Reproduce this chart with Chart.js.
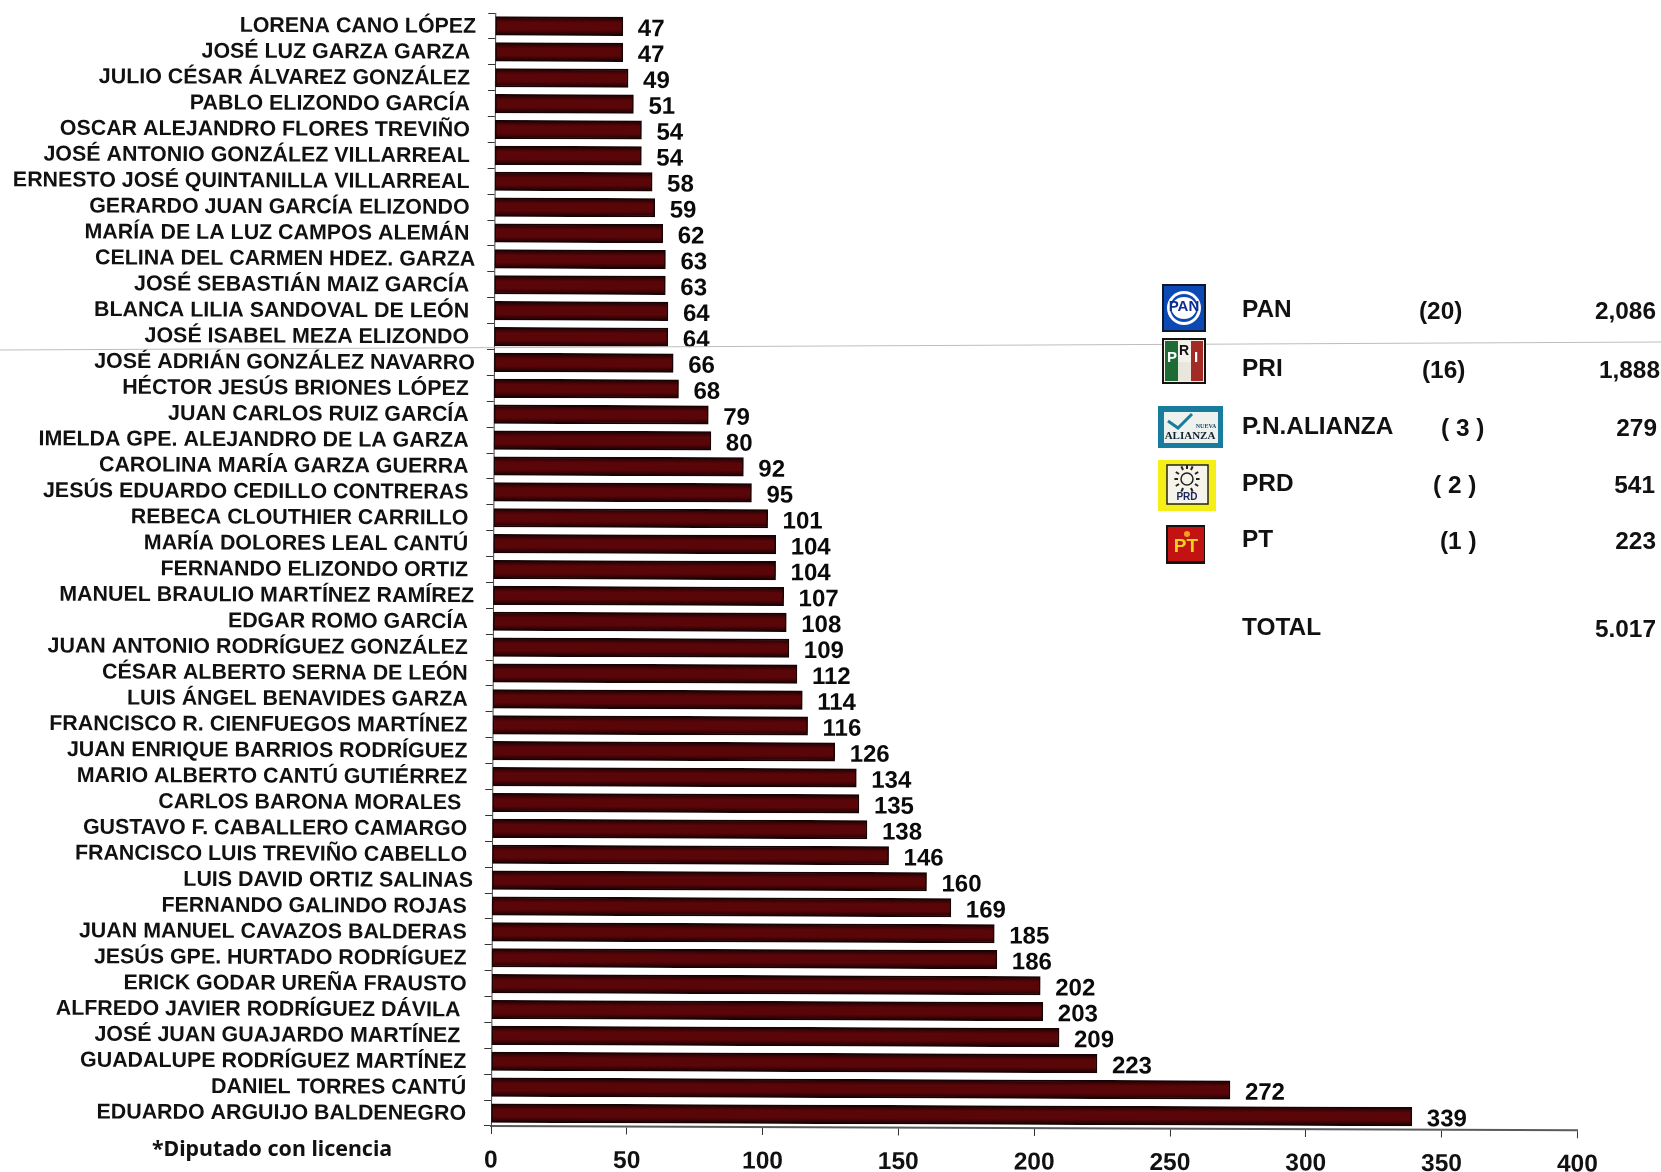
<!DOCTYPE html>
<html><head><meta charset="utf-8">
<style>html,body{margin:0;padding:0;background:#fff}#w{width:1661px;height:1172px;position:relative}</style>
<script src="https://cdn.jsdelivr.net/npm/chart.js@4/dist/chart.umd.min.js"></script>
</head><body><div id="w"><canvas id="c" width="1661" height="1172"></canvas></div>
<script>
const names = ["LORENA CANO LÓPEZ","JOSÉ LUZ GARZA GARZA ","JULIO CÉSAR ÁLVAREZ GONZÁLEZ ","PABLO ELIZONDO GARCÍA ","OSCAR ALEJANDRO FLORES TREVIÑO ","JOSÉ ANTONIO GONZÁLEZ VILLARREAL ","ERNESTO JOSÉ QUINTANILLA VILLARREAL ","GERARDO JUAN GARCÍA ELIZONDO ","MARÍA DE LA LUZ CAMPOS ALEMÁN ","CELINA DEL CARMEN HDEZ. GARZA","JOSÉ SEBASTIÁN MAIZ GARCÍA ","BLANCA LILIA SANDOVAL DE LEÓN ","JOSÉ ISABEL MEZA ELIZONDO ","JOSÉ ADRIÁN GONZÁLEZ NAVARRO","HÉCTOR JESÚS BRIONES LÓPEZ ","JUAN CARLOS RUIZ GARCÍA ","IMELDA GPE. ALEJANDRO DE LA GARZA ","CAROLINA MARÍA GARZA GUERRA ","JESÚS EDUARDO CEDILLO CONTRERAS ","REBECA CLOUTHIER CARRILLO ","MARÍA DOLORES LEAL CANTÚ ","FERNANDO ELIZONDO ORTIZ ","MANUEL BRAULIO MARTÍNEZ RAMÍREZ","EDGAR ROMO GARCÍA ","JUAN ANTONIO RODRÍGUEZ GONZÁLEZ ","CÉSAR ALBERTO SERNA DE LEÓN ","LUIS ÁNGEL BENAVIDES GARZA ","FRANCISCO R. CIENFUEGOS MARTÍNEZ ","JUAN ENRIQUE BARRIOS RODRÍGUEZ ","MARIO ALBERTO CANTÚ GUTIÉRREZ ","CARLOS BARONA MORALES  ","GUSTAVO F. CABALLERO CAMARGO ","FRANCISCO LUIS TREVIÑO CABELLO ","LUIS DAVID ORTIZ SALINAS","FERNANDO GALINDO ROJAS ","JUAN MANUEL CAVAZOS BALDERAS ","JESÚS GPE. HURTADO RODRÍGUEZ ","ERICK GODAR UREÑA FRAUSTO ","ALFREDO JAVIER RODRÍGUEZ DÁVILA  ","JOSÉ JUAN GUAJARDO MARTÍNEZ  ","GUADALUPE RODRÍGUEZ MARTÍNEZ ","DANIEL TORRES CANTÚ ","EDUARDO ARGUIJO BALDENEGRO "];
const values = [47,47,49,51,54,54,58,59,62,63,63,64,64,66,68,79,80,92,95,101,104,104,107,108,109,112,114,116,126,134,135,138,146,160,169,185,186,202,203,209,223,272,339];
const parties = ["PAN","PRI","P.N.ALIANZA","PRD","PT"];
const seats = ["(20)","(16)","( 3 )","( 2 )","(1 )"];
const partyTotals = ["2,086","1,888","279","541","223"];
const totalLabel = "TOTAL";
const totalValue = "5.017";
const footnote = "*Diputado con licencia";
const xTicks = [0,50,100,150,200,250,300,350,400];

const AR = '"Liberation Sans"';
const TILT = 0.0038;           // the scanned page is very slightly rotated
function logos(ctx){
  const t=(s,x,y,f,c)=>{ctx.font=f;ctx.fillStyle=c;ctx.textAlign='center';ctx.textBaseline='middle';ctx.fillText(s,x,y);};
  const r=(x,y,w,h,c)=>{ctx.fillStyle=c;ctx.fillRect(x,y,w,h);};
  // PAN
  r(1162,284,44,48,'#10182c'); r(1164,286,40,44,'#0d49b4');
  ctx.fillStyle='#fff';ctx.beginPath();ctx.arc(1184,308,17,0,7);ctx.fill();
  ctx.fillStyle='#0d49b4';ctx.beginPath();ctx.arc(1184,308,14,0,7);ctx.fill();
  ctx.fillStyle='#fff';ctx.beginPath();ctx.ellipse(1184,308,12.5,11,0,0,7);ctx.fill();
  t('PAN',1184,307,'bold 15px '+AR,'#0d2f90');
  // PRI
  r(1162,338,44,46,'#15120f'); r(1164,340,40,42,'#f4f1ea');
  r(1165,341,13,40,'#1e6b36'); r(1191,341,12,40,'#a32a25');
  r(1178,362,13,19,'#e9e6dd');
  t('P',1172,358,'bold 15px '+AR,'#fff'); t('R',1184,351,'bold 14px '+AR,'#111'); t('I',1196,358,'bold 15px '+AR,'#fff');
  // Nueva Alianza
  r(1158,406,65,42,'#1a7c9c'); r(1164,412,54,31,'#eef2ee');
  ctx.strokeStyle='#1a7c9c';ctx.lineWidth=3;ctx.beginPath();ctx.moveTo(1168,421);ctx.lineTo(1178,428);ctx.lineTo(1192,414);ctx.stroke();
  t('NUEVA',1206,426,'bold 6px "Liberation Serif"','#1a4a60');
  t('ALIANZA',1190,436,'bold 11px "Liberation Serif"','#123');
  // PRD
  r(1158,460,58,51,'#f5ef17'); r(1167,465,41,39,'#f6f4ea');
  ctx.strokeStyle='#222';ctx.lineWidth=1.5;ctx.strokeRect(1167,465,41,39);
  ctx.beginPath();ctx.arc(1187,479,6,0,7);ctx.stroke();
  ctx.lineWidth=2;
  for(const [a,b] of [[-9,0],[9,0],[-8,-5],[8,-5],[-8,5],[8,5],[-4,-9],[4,-9],[0,-10],[-4,9],[4,9]]){
    ctx.beginPath();ctx.moveTo(1187+a,479+b);ctx.lineTo(1187+a*1.4,479+b*1.4);ctx.stroke();
  }
  t('PRD',1187,497,'bold 10px '+AR,'#1c2560');
  // PT
  r(1166,525,39,39,'#16120f'); r(1168,527,36,34,'#c21312');
  t('PT',1186,547,'bold 19px '+AR,'#f3d21f');
  ctx.fillStyle='#f3a01f';ctx.beginPath();ctx.arc(1187,534,3,0,7);ctx.fill();
}
const overlay = {
  id:'overlay',
  beforeDraw(chart){
    const ctx=chart.ctx, a=chart.chartArea;
    ctx.save();
    ctx.translate(a.left,a.bottom); ctx.rotate(TILT); ctx.translate(-a.left,-a.bottom);
  },
  afterDatasetsDraw(chart){
    const ctx=chart.ctx;
    ctx.font='bold 24px '+AR; ctx.fillStyle='#0a0a0a'; ctx.textAlign='left'; ctx.textBaseline='middle';
    chart.getDatasetMeta(0).data.forEach((b,i)=>ctx.fillText(String(values[i]),b.x+15,b.y+3));
    ctx.restore();
    ctx.save();
    ctx.strokeStyle='#bdbdbd'; ctx.lineWidth=1;
    ctx.beginPath();ctx.moveTo(0,350);ctx.lineTo(1661,342);ctx.stroke();
    logos(ctx);
    const rows=[310,369,427,484,540.5], sx=[1419,1422,1441,1433,1440], rx=[1656,1660,1657,1655,1656];
    ctx.font='bold 24.4px '+AR; ctx.fillStyle='#111'; ctx.textBaseline='middle';
    parties.forEach((p,i)=>{
      ctx.textAlign='left'; ctx.fillText(p,1242,rows[i]);
      ctx.fillText(seats[i],sx[i],rows[i]+2);
      ctx.textAlign='right'; ctx.fillText(partyTotals[i],rx[i],rows[i]+2);
    });
    ctx.textAlign='left'; ctx.fillText(totalLabel,1242,628);
    ctx.textAlign='right'; ctx.fillText(totalValue,1656,630);
    ctx.font='bold 21.4px "Noto Sans"'; ctx.textAlign='center'; ctx.fillStyle='#111';
    ctx.fillText(footnote,272,1150);
    ctx.restore();
  }
};
new Chart(document.getElementById('c'),{
  type:'bar',
  data:{labels:names,datasets:[{data:values,borderColor:'#170303',borderWidth:1.5,borderSkipped:false,barThickness:18.5,
    backgroundColor(c){
      const s=c.chart.scales.y;
      const y=s&&c.dataIndex!==undefined?s.getPixelForValue(c.dataIndex):NaN;
      if(!isFinite(y)) return '#5c0508';
      const g=c.chart.ctx.createLinearGradient(0,y-9,0,y+9);
      g.addColorStop(0,'#1a0203');g.addColorStop(.3,'#5a0508');g.addColorStop(.7,'#5a0508');g.addColorStop(1,'#1a0203');
      return g;
    }}]},
  options:{
    indexAxis:'y',responsive:false,animation:false,events:[],
    layout:{padding:{top:13,right:83.5,bottom:0,left:0}},
    plugins:{legend:{display:false},tooltip:{enabled:false},title:{display:false}},
    scales:{
      x:{type:'linear',min:0,max:400,position:'bottom',
        afterBuildTicks(s){s.ticks=xTicks.map(v=>({value:v}));},
        afterFit(s){s.height=46;s.paddingLeft=0;s.paddingRight=0;},
        border:{color:'#5a5a5a',width:2},
        grid:{drawOnChartArea:false,drawTicks:true,tickLength:8,color:'#333'},
        ticks:{autoSkip:false,maxRotation:0,font:{family:AR,weight:'bold',size:24.5},color:'#111',padding:12}},
      y:{type:'category',
        afterFit(s){s.width=491;s.paddingTop=0;s.paddingBottom=0;},
        border:{color:'#444',width:1},
        grid:{drawOnChartArea:false,drawTicks:true,tickLength:7,color:'#333',offset:true},
        ticks:{autoSkip:false,font:{family:AR,weight:'bold',size:21.4},color:'#111',padding:12,labelOffset:1}}
    }
  },
  plugins:[overlay]
});
</script></body></html>
